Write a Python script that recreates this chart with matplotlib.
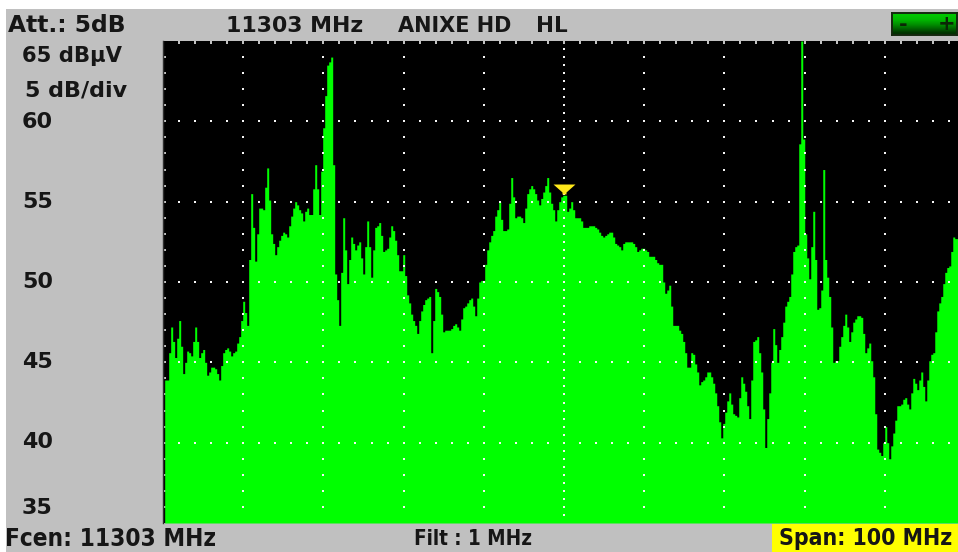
import numpy as np
import matplotlib
matplotlib.use("Agg")
import matplotlib.pyplot as plt
from matplotlib.patches import Rectangle
from matplotlib.path import Path

W, H = 958, 552
CENTER_MHZ = 11303
SPAN_MHZ = 100
BIN_MHZ = 0.2494
FIRST_BIN_OFFSET_MHZ = 0.21
Y_TOP, Y_BOTTOM = 65, 35
MARKER_LEVEL = 55.78
Y_LABELS = ["60", "55", "50", "45", "40", "35"]

levels = [
 43.9,43.9,45.6,47.2,46.3,45.3,46.5,47.6,46.0,44.3,45.0,45.7,45.6,45.4,46.3,47.2,46.3,45.3,45.6,45.8,
 45.0,44.2,44.4,44.7,44.7,44.6,44.3,43.9,44.8,45.6,45.8,45.9,45.7,45.4,45.6,45.7,46.2,46.6,47.6,48.8,
 48.1,47.3,51.4,55.5,53.4,51.3,53.0,54.6,54.6,54.5,55.9,57.1,55.1,53.0,52.4,51.7,52.2,52.6,52.9,53.1,
 53.0,52.8,53.5,54.1,54.6,55.0,54.8,54.5,54.3,53.8,54.4,54.6,54.2,54.2,55.8,57.3,55.8,54.2,56.9,59.6,
 61.6,63.5,63.7,64.0,57.3,50.5,48.9,47.3,50.6,54.0,52.0,49.9,51.4,52.8,52.4,52.0,52.3,52.5,51.5,50.5,
 52.2,53.8,52.2,50.3,52.0,53.4,53.5,53.7,52.9,51.9,52.0,52.1,52.8,53.5,53.2,52.6,51.7,50.7,50.7,51.7,
 50.4,49.2,48.7,48.0,47.6,47.3,46.8,47.6,48.2,48.6,48.9,49.0,49.1,45.6,47.6,49.6,49.4,49.1,48.0,46.9,
 47.0,47.0,47.0,47.1,47.3,47.4,47.2,47.0,47.7,48.4,48.5,48.7,48.9,49.0,48.5,47.9,49.0,50.0,50.1,50.1,
 51.1,52.0,52.5,52.9,53.2,54.1,54.5,55.0,53.9,53.2,53.2,53.3,54.9,56.5,55.3,54.0,54.1,54.1,54.0,53.7,
 54.6,55.5,55.8,56.0,55.8,55.5,55.1,54.8,55.2,55.6,56.0,56.5,55.6,54.9,54.5,53.8,54.5,55.0,55.3,55.4,
 55.4,54.4,54.6,55.0,54.5,54.0,54.0,54.0,53.8,53.4,53.4,53.4,53.5,53.5,53.5,53.4,53.3,53.1,52.9,52.8,
 52.9,53.0,53.1,53.1,52.8,52.4,52.3,52.2,52.0,52.4,52.5,52.5,52.5,52.5,52.4,52.2,51.9,52.0,52.1,52.1,
 52.0,51.9,51.6,51.6,51.6,51.4,51.2,51.1,51.1,50.0,49.3,49.5,49.8,48.5,47.3,47.3,47.3,47.0,46.8,46.3,
 45.6,44.7,44.7,45.6,45.5,44.9,44.4,43.6,43.8,43.9,44.1,44.4,44.4,44.1,43.7,43.1,42.3,41.3,40.3,41.2,
 41.9,42.6,43.1,42.4,41.8,41.7,41.6,42.8,44.1,43.7,43.2,42.3,41.5,43.9,46.3,46.4,46.6,45.6,44.4,42.1,
 39.7,41.5,43.1,45.0,47.1,46.1,45.0,45.8,46.6,47.5,48.5,48.8,49.1,50.5,51.9,52.2,52.3,58.6,65.0,58.9,
 53.0,51.5,50.2,52.2,54.4,51.4,48.3,48.4,49.5,57.0,51.4,50.3,49.1,47.2,45.0,45.1,45.1,46.0,46.6,47.3,
 48.0,47.2,46.3,46.9,47.5,47.7,47.9,47.9,47.8,46.8,45.6,45.9,46.2,45.1,44.1,41.8,39.6,39.4,39.2,40.0,
 41.0,40.0,39.0,39.8,40.6,41.4,42.3,42.3,42.4,42.7,42.8,42.4,42.1,43.1,44.0,43.7,43.3,43.9,44.4,43.5,
 42.6,43.9,45.1,45.5,45.6,46.9,48.2,48.7,49.1,49.9,50.6,50.9,51.0,51.9,52.8,52.7,52.7,52.6,52.6,
]

def fx(px):
    return px / W

def fy(py):
    return 1 - py / H

fig = plt.figure(figsize=(W / 100, H / 100), dpi=100, facecolor="white")
fig.add_artist(Rectangle((fx(6), 0), 1 - fx(6), fy(9), transform=fig.transFigure,
                         facecolor="#c0c0c0", edgecolor="none", zorder=0))
fig.add_artist(Rectangle((fx(772), 0), 1 - fx(772), fy(524), transform=fig.transFigure,
                         facecolor="#ffff00", edgecolor="none", zorder=0))

ax = fig.add_axes([fx(163), fy(523), 802 / W, 482 / H], facecolor="black")
x0 = CENTER_MHZ - SPAN_MHZ / 2
x1 = CENTER_MHZ + SPAN_MHZ / 2
ax.set_xlim(x0, x1)
ax.set_ylim(Y_BOTTOM, Y_TOP)

freqs = x0 + FIRST_BIN_OFFSET_MHZ + BIN_MHZ * np.arange(len(levels))
ax.fill_between(freqs, levels, Y_BOTTOM, step="post", color="#00ff00", lw=0, zorder=2)

# dotted graticule
hx = np.arange(x0 + 2, x1, 2)
for lvl in range(40, 65, 5):
    ax.plot(hx, np.full(hx.size, lvl), ls="none", marker="s", ms=1.5, mew=0, color="#f4f4f4", zorder=3)
vy = np.arange(Y_BOTTOM + 1, Y_TOP, 1.0)
for f in np.arange(x0 + 10, x1, 10):
    if f == CENTER_MHZ:
        continue
    ax.plot(np.full(vy.size, f), vy, ls="none", marker="s", ms=1.5, mew=0, color="#f4f4f4", zorder=3)
vc = np.arange(Y_BOTTOM + 0.5, Y_TOP, 0.5)
ax.plot(np.full(vc.size, CENTER_MHZ), vc, ls="none", marker="s", ms=1.5, mew=0, color="#f4f4f4", zorder=3)

# frame ticks
ax.set_xticks(np.arange(x0 + 2, x1 + 0.1, 2))
ax.set_yticks(np.arange(Y_BOTTOM + 1, Y_TOP, 1))
ax.tick_params(axis="both", which="both", direction="in", length=2, width=1.2, color="#e8e8e8",
               top=True, bottom=True, left=True, right=False,
               labelbottom=False, labelleft=False)
for side in ax.spines:
    ax.spines[side].set_visible(False)
ax.spines["left"].set_visible(True)
ax.spines["left"].set_color("#303030")
ax.spines["left"].set_linewidth(1)

# centre marker
tri = Path([(-11, 5), (11, 5), (2, -3), (2, -5), (-2, -5), (-2, -3), (-11, 5)], closed=True)
ax.plot([CENTER_MHZ], [MARKER_LEVEL], ls="none", marker=tri, ms=15.8, mew=0, color="#ffe81a", zorder=5)

# button
bar = fig.add_axes([fx(892), fy(35), 65 / W, 22 / H])
grad = np.array([[0.0, 0.78, 0.0], [0.0, 0.72, 0.0], [0.0, 0.58, 0.0], [0.0, 0.40, 0.0], [0.0, 0.2, 0.0]])
bar.imshow(grad[:, None, :], aspect="auto", interpolation="bilinear")
bar.set_xticks([])
bar.set_yticks([])
for s in bar.spines.values():
    s.set_color("#14280f")
    s.set_linewidth(1.4)

FONT = dict(family="DejaVu Sans", weight="bold", color="#161616", va="center", ha="left")

def label(px, py, text, size=14, **kw):
    style = dict(FONT)
    style.update(kw)
    fig.text(fx(px), fy(py), text, fontsize=size, **style)

label(8, 26, "Att.: 5dB", 16.8)
label(226, 26, "11303 MHz", 15.8)
label(398, 26, "ANIXE HD", 15)
label(536, 26, "HL", 15.5)
label(22, 56, "65 dBµV", 15.2)
label(25, 91, "5 dB/div", 16)
for txt, py in zip(Y_LABELS, [122, 202, 282, 362, 442, 508]):
    label(22, py, txt, 16)
label(903, 25, "-", 15, color="#0b2606", ha="center")
label(947, 24, "+", 15, color="#0b2606", ha="center")
label(5, 539, "Fcen: 11303 MHz", 17.5, stretch="condensed")
label(414, 539, "Filt : 1 MHz", 14.8, stretch="condensed")
label(779, 539, "Span: 100 MHz", 16.5, stretch="condensed")

fig.savefig("out.png", dpi=100, facecolor="white")
